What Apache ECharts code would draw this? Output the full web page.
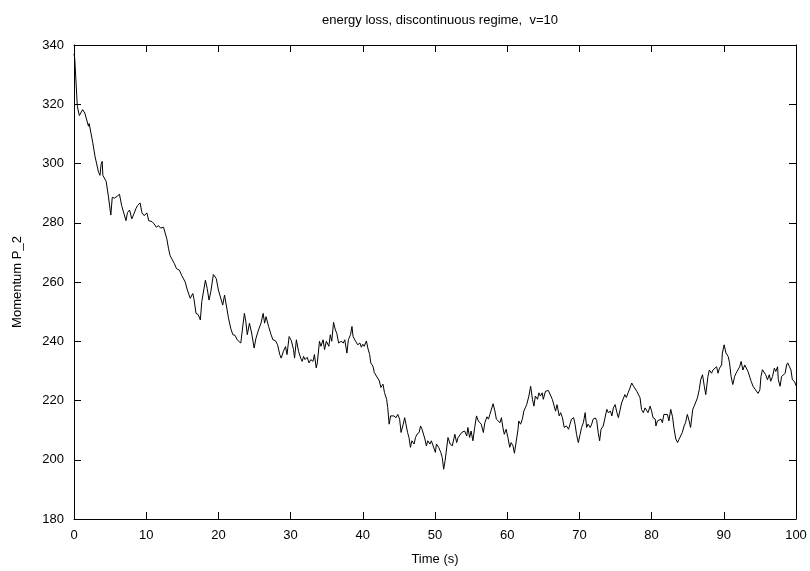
<!DOCTYPE html>
<html>
<head>
<meta charset="utf-8">
<script src="https://cdn.jsdelivr.net/npm/echarts@6/dist/echarts.min.js"></script>
<style>
  html, body { margin: 0; padding: 0; background: #fff; }
  #chart { width: 810px; height: 571px; }
</style>
</head>
<body>
<div id="chart"></div>
<script>
// ------------------------------------------------------------
// Data (time in s, momentum P_2)
// ------------------------------------------------------------
const timeS = [
  0, 0.1, 0.46, 0.74, 1.2, 1.5, 2.0, 2.1, 2.6, 2.9, 3.4, 3.6, 3.75, 3.9, 4.0, 4.45, 4.76, 5.1, 5.3, 5.6,
  6.0, 6.3, 6.6, 6.85, 7.2, 7.4, 7.7, 8.0, 8.3, 8.6, 8.8, 9.15, 9.4, 9.7, 10.1, 10.35, 10.8, 11.1, 11.4, 11.7,
  12.0, 12.4, 12.6, 12.85, 13.1, 13.3, 13.55, 13.9, 14.2, 14.6, 14.9, 15.4, 15.7, 16.1, 16.45, 16.6, 16.9, 17.2, 17.5, 17.7,
  18.2, 18.45, 18.7, 18.95, 19.3, 19.7, 20.0, 20.2, 20.6, 20.85, 21.1, 21.4, 21.7, 22.0, 22.3, 22.6, 22.8, 23.1, 23.4, 23.6,
  23.8, 24.0, 24.3, 24.6, 24.95, 25.2, 25.55, 25.9, 26.2, 26.4, 26.6, 26.95, 27.3, 27.55, 27.9, 28.2, 28.5, 28.7, 29.0, 29.3,
  29.5, 29.8, 30.1, 30.4, 30.55, 30.8, 31.1, 31.4, 31.6, 31.8, 32.0, 32.3, 32.55, 32.8, 33.1, 33.3, 33.55, 33.7, 34.0, 34.2,
  34.5, 34.7, 34.95, 35.3, 35.5, 35.7, 35.95, 36.2, 36.4, 36.65, 37.0, 37.3, 37.5, 37.8, 38.0, 38.3, 38.5, 38.65, 39.0, 39.3,
  39.6, 39.8, 40.0, 40.2, 40.5, 40.7, 40.95, 41.1, 41.4, 41.6, 41.8, 42.05, 42.3, 42.5, 42.8, 43.0, 43.3, 43.45, 43.65, 43.85,
  44.1, 44.3, 44.6, 44.85, 45.1, 45.3, 45.6, 45.8, 46.2, 46.4, 46.6, 46.8, 47.1, 47.3, 47.5, 47.8, 48.0, 48.2, 48.6, 48.8,
  49.0, 49.3, 49.5, 49.75, 50.05, 50.2, 50.5, 50.8, 51.0, 51.2, 51.4, 51.8, 52.1, 52.4, 52.65, 52.75, 53.0, 53.2, 53.4, 53.7,
  53.9, 54.1, 54.4, 54.55, 54.8, 55.0, 55.25, 55.5, 55.75, 56.0, 56.2, 56.4, 56.7, 56.9, 57.2, 57.4, 57.6, 57.85, 58.05, 58.3,
  58.5, 58.7, 59.0, 59.2, 59.4, 59.6, 59.85, 60.1, 60.35, 60.55, 60.8, 61.0, 61.3, 61.5, 61.6, 61.85, 62.1, 62.3, 62.5, 62.7,
  63.0, 63.25, 63.5, 63.7, 63.9, 64.2, 64.4, 64.6, 64.85, 65.0, 65.3, 65.5, 65.7, 65.9, 66.25, 66.5, 66.7, 66.9, 67.2, 67.4,
  67.65, 67.9, 68.2, 68.5, 68.7, 68.9, 69.2, 69.4, 69.6, 69.85, 70.1, 70.3, 70.55, 70.8, 71.0, 71.2, 71.5, 71.7, 71.9, 72.2,
  72.4, 72.6, 72.8, 73.0, 73.3, 73.55, 73.8, 74.0, 74.3, 74.5, 74.7, 74.95, 75.2, 75.4, 75.6, 75.85, 76.1, 76.3, 76.5, 76.75,
  77.0, 77.25, 77.5, 77.7, 77.95, 78.2, 78.4, 78.6, 78.85, 79.1, 79.3, 79.5, 79.8, 80.0, 80.2, 80.5, 80.6, 80.8, 81.0, 81.3,
  81.5, 81.7, 81.95, 82.2, 82.4, 82.65, 82.9, 83.1, 83.35, 83.6, 83.8, 84.0, 84.25, 84.5, 84.7, 84.95, 85.2, 85.4, 85.7, 85.9,
  86.1, 86.35, 86.6, 86.8, 87.05, 87.3, 87.5, 87.8, 88.0, 88.3, 88.5, 88.75, 89.0, 89.2, 89.4, 89.7, 89.8, 90.05, 90.3, 90.6,
  90.8, 91.0, 91.25, 91.5, 91.7, 91.95, 92.2, 92.4, 92.65, 92.9, 93.1, 93.35, 93.6, 93.8, 94.05, 94.3, 94.5, 94.75, 95.0, 95.15,
  95.35, 95.6, 95.8, 96.05, 96.3, 96.5, 96.75, 97.0, 97.2, 97.45, 97.55, 97.8, 98.0, 98.2, 98.5, 98.7, 98.85, 99.1, 99.3, 99.5,
  99.8, 100
];

const momentum = [
  337, 335.5, 319.3, 316.2, 318.2, 317, 312.6, 313.5, 307, 302.5, 297, 296, 299.7, 300.7, 296, 294, 289, 282.6, 288.6, 288.3,
  289, 289.6, 285.8, 285.3, 280.7, 283.4, 284.3, 281.3, 283, 284.9, 285.8, 286.7, 283.5, 282.4, 283.3, 280.7, 280.4, 279.6, 278.5, 279,
  278.2, 278.5, 278, 274.6, 271.2, 269, 267.8, 266.2, 264.5, 264, 262.3, 260, 257.3, 254.5, 256.1, 254.5, 249.4, 249, 247.2, 253.4,
  260.6, 257.8, 253.9, 256.7, 262.5, 261.2, 257.3, 256.7, 252.2, 255.6, 255, 247.8, 244.4, 242.2, 242, 240.5, 240, 239.4, 245.5, 249.4,
  246.6, 242.2, 246.1, 242.8, 237.7, 241, 243.8, 246.1, 249.4, 246.1, 248.3, 245, 242.2, 240.5, 240.2, 238.8, 235.5, 234.3, 236.6, 238.2,
  235.5, 241.6, 240.2, 237.2, 234.3, 240.5, 236.6, 234.3, 233.2, 234.9, 233.8, 234.6, 232.7, 233.8, 233.2, 235.5, 231, 232.7, 240, 238.3,
  240.5, 237.2, 240, 238.3, 242.2, 240, 246.4, 243.8, 242.7, 239.4, 240, 239.4, 240.5, 236, 240.5, 242.2, 245, 241.6, 240, 238.8,
  239.4, 238, 239, 238.3, 240.1, 237.7, 235.5, 232.7, 231.6, 229.4, 229.9, 227.6, 226.6, 224.4, 225.5, 222.7, 220.4, 217.6, 212, 214.8,
  214.2, 214.8, 214.2, 215.3, 213.7, 209.2, 212, 214.2, 209.2, 207.5, 204.2, 206.4, 205.3, 207.5, 208.6, 209.2, 211.4, 210.3, 207, 204.7,
  206.4, 205.3, 206.4, 206, 202.5, 205.3, 204.2, 202.5, 200.8, 196.8, 199.7, 207.5, 205.3, 204.7, 204.2, 208.6, 205.8, 207.5, 207, 209.2,
  208.6, 209.7, 208, 210.9, 207.5, 209.7, 206.4, 210.9, 214.8, 213.1, 212.5, 212, 209.2, 212.5, 214.5, 213.7, 215.3, 215.9, 218.9, 216.4,
  213.7, 214.2, 212.5, 214.2, 210.9, 208.6, 210.3, 207.5, 204.2, 205.8, 204.7, 202.2, 207, 210.3, 213.1, 212, 213.7, 216.4, 217.5, 218.6,
  221.5, 224.8, 220.4, 218.1, 221.5, 220.4, 222.6, 221.5, 222.6, 220.4, 223.1, 223.7, 223.4, 222.9, 220.4, 221, 216.4, 218.6, 214.8, 215.9,
  214.2, 210.9, 211.4, 210.3, 212, 213.7, 214.2, 212, 208.6, 205.8, 208.6, 210.9, 212.5, 215.9, 210.9, 212, 210.9, 212, 213.7, 214.1,
  213.2, 209.2, 206.4, 210.3, 211.4, 210.9, 217, 215.9, 216.4, 214.8, 217.5, 218.6, 215.9, 214.2, 214.8, 219.2, 219.8, 222, 221, 222.6,
  224.2, 225.9, 224.8, 224.2, 223.1, 222.6, 220.9, 217, 215.9, 217.5, 217, 215.9, 218.1, 216.4, 214.2, 213.7, 211.4, 213.1, 212.5, 213.7,
  212.5, 215.3, 215.9, 215.3, 213.1, 217, 214.5, 210.6, 207, 205.8, 206.9, 207.5, 209.2, 211.4, 212.5, 215.3, 213.1, 210.9, 217, 218.1,
  217.6, 220.9, 223.7, 227, 228.7, 224.8, 222, 228.1, 230.3, 229.2, 230.3, 229.8, 231.4, 229.2, 230.9, 232, 236, 238.8, 236, 234.9,
  232.7, 228.2, 225.4, 228.1, 229.2, 229.8, 231.4, 233.2, 230.3, 232, 231.4, 229.8, 229.2, 226.4, 224.8, 224.2, 223.2, 222.4, 223.7, 228.1,
  230.4, 230.9, 228.7, 227, 228.7, 226.5, 228.1, 230.9, 229.8, 231.4, 227, 224.8, 228.1, 228.7, 229.2, 232, 232.7, 231.4, 230.3, 227,
  226.4, 225
];

// axis ranges / ticks
const xTicks = { min: 0, max: 100, step: 10 };
const yTicks = { min: 180, max: 340, step: 20 };

const FONT = 'Liberation Sans, Arial, sans-serif';

// build [x, y] pairs for the line
const linePoints = timeS.map(function(t, i) { return [t, momentum[i]]; });

const chart = echarts.init(document.getElementById('chart'));

// shared axis styling (gnuplot look: ticks inside, mirrored on all sides)
function axisBase(range) {
  return {
    type: 'value',
    min: range.min,
    max: range.max,
    interval: range.step,
    splitLine: { show: false },
    axisLine: { show: true, onZero: false, lineStyle: { color: '#000', width: 1 } },
    axisTick: { show: true, inside: true, length: 7, lineStyle: { color: '#000', width: 1 } }
  };
}

chart.setOption({
  animation: false,
  backgroundColor: '#fff',
  title: {
    text: 'energy loss, discontinuous regime,  v=10',
    left: 435,
    top: 9,
    textAlign: 'center',
    textStyle: { fontFamily: FONT, fontSize: 13, fontWeight: 'normal', color: '#000' }
  },
  grid: { left: 74, right: 14, top: 45, bottom: 49, containLabel: false },
  xAxis: [
    Object.assign(axisBase(xTicks), {
      position: 'bottom',
      name: 'Time (s)',
      nameLocation: 'middle',
      nameGap: 34,
      nameTextStyle: { fontFamily: FONT, fontSize: 13, color: '#000' },
      axisLabel: { fontFamily: FONT, fontSize: 13, color: '#000', margin: 10 }
    }),
    Object.assign(axisBase(xTicks), {
      position: 'top',
      axisLabel: { show: false }
    })
  ],
  yAxis: [
    Object.assign(axisBase(yTicks), {
      position: 'left',
      name: 'Momentum P_2',
      nameLocation: 'middle',
      nameGap: 50,
      nameTextStyle: { fontFamily: FONT, fontSize: 13, color: '#000' },
      axisLabel: { fontFamily: FONT, fontSize: 13, color: '#000', margin: 10 }
    }),
    Object.assign(axisBase(yTicks), {
      position: 'right',
      axisLabel: { show: false }
    })
  ],
  series: [{
    type: 'line',
    data: linePoints,
    xAxisIndex: 0,
    yAxisIndex: 0,
    showSymbol: false,
    smooth: false,
    lineStyle: { color: '#000', width: 1 },
    itemStyle: { color: '#000' }
  }]
});
</script>
</body>
</html>
